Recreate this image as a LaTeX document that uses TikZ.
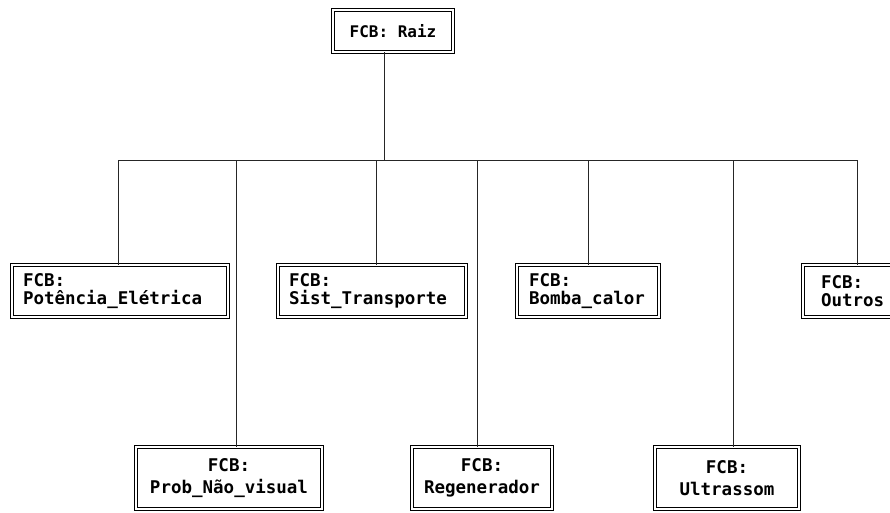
\documentclass[tikz,border=0pt]{standalone}
\usepackage{fontspec}
\setmonofont{DejaVu Sans Mono}
\begin{document}
\begin{tikzpicture}[x=1pt,y=-1pt,
  fcb/.style={draw=black, line width=0.9pt, double=white, double distance=2.2pt,
    inner sep=0pt, font=\ttfamily\bfseries\fontsize{17.5}{18.5}\selectfont},
  upper/.style={fcb, align=left, text width=#1},
  lower/.style={fcb, align=center, font=\ttfamily\bfseries\fontsize{17.5}{22}\selectfont},
  link/.style={draw=black!85, line width=1pt}]
\useasboundingbox (0,0) rectangle (890,512);
\clip (0,0) rectangle (890,512);

% root
\node[fcb, minimum width=120pt, minimum height=42pt,
  font=\ttfamily\bfseries\fontsize{16}{18}\selectfont] (root) at (393,31) {FCB: Raiz};

% first row
\node[upper=194pt, minimum width=216pt, minimum height=52pt] (pot) at (120,291) {FCB:\\Potência\_Elétrica};
\node[upper=166pt, minimum width=188pt, minimum height=52pt] (sist) at (372,291) {FCB:\\Sist\_Transporte};
\node[upper=118pt, minimum width=142pt, minimum height=52pt] (bomba) at (588,291) {FCB:\\Bomba\_calor};
\node[upper=64pt, minimum width=100pt, minimum height=52pt] (outros) at (853,291) {FCB:\\Outros};

% second row
\node[lower, minimum width=186pt, minimum height=62pt] (prob) at (229,478) {FCB:\\Prob\_Não\_visual};
\node[lower, minimum width=140pt, minimum height=62pt] (regen) at (482,478) {FCB:\\Regenerador};
\node[lower, minimum width=144pt, minimum height=62pt] (ultra) at (727,478) {FCB:\\Ultrassom};

% bus and drop points
\coordinate (b0) at (384,160);
\coordinate (b1) at (118,160);
\coordinate (b2) at (236,160);
\coordinate (b3) at (376,160);
\coordinate (b4) at (477,160);
\coordinate (b5) at (588,160);
\coordinate (b6) at (733,160);
\coordinate (b7) at (857,160);

\draw[link] (root.south -| b0) -- (b0);
\draw[link] (b1) -- (b7);
\draw[link] (b1) -- (b1 |- pot.north);
\draw[link] (b2) -- (b2 |- prob.north);
\draw[link] (b3) -- (b3 |- sist.north);
\draw[link] (b4) -- (b4 |- regen.north);
\draw[link] (b5) -- (b5 |- bomba.north);
\draw[link] (b6) -- (b6 |- ultra.north);
\draw[link] (b7) -- (b7 |- outros.north);
\end{tikzpicture}
\end{document}
